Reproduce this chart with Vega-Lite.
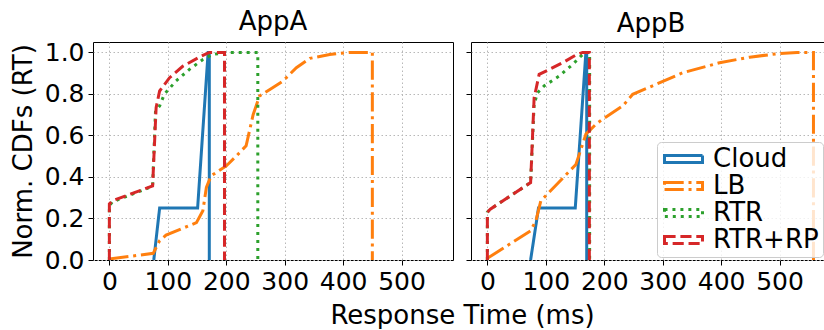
{
  "$schema": "https://vega.github.io/schema/vega-lite/v6.json",
  "padding": {"left": 9, "top": 8, "right": 0, "bottom": 0},
  "background": "white",
  "config": {
    "font": "DejaVu Sans",
    "view": {"stroke": "#000000", "strokeWidth": 1},
    "axis": {
      "domain": false,
      "labelFont": "DejaVu Sans",
      "labelFontSize": 25,
      "labelColor": "#000000",
      "titleFont": "DejaVu Sans",
      "titleFontSize": 26,
      "titleFontWeight": "normal",
      "titleColor": "#000000",
      "tickColor": "#000000",
      "tickSize": 5,
      "tickWidth": 1,
      "labelPadding": 4,
      "gridColor": "#b8b8b8",
      "gridDash": [1.5, 2.5],
      "gridWidth": 1,
      "minExtent": 0
    },
    "legend": {
      "labelFont": "DejaVu Sans",
      "labelFontSize": 26,
      "labelColor": "#000000",
      "labelLimit": 0,
      "labelOffset": 26,
      "symbolType": "M-1,-0.36H3V0.36H-1Z",
      "symbolSize": 361,
      "symbolStrokeWidth": 3,
      "symbolFillColor": "transparent",
      "fillColor": "rgba(255,255,255,0.8)",
      "strokeColor": "#cccccc",
      "cornerRadius": 4,
      "padding": 4,
      "rowPadding": 1,
      "title": null
    },
    "title": {"font": "DejaVu Sans", "fontSize": 26, "fontWeight": "normal", "color": "#000000", "offset": 5, "anchor": "middle"}
  },
  "data": {
    "values": [
      {"app": "AppA", "sys": "Cloud", "i": 1, "t": 76, "cdf": 0},
      {"app": "AppA", "sys": "Cloud", "i": 2, "t": 86, "cdf": 0.25},
      {"app": "AppA", "sys": "Cloud", "i": 3, "t": 151, "cdf": 0.25},
      {"app": "AppA", "sys": "Cloud", "i": 4, "t": 169, "cdf": 1.0},
      {"app": "AppA", "sys": "Cloud", "i": 5, "t": 171, "cdf": 1.0},
      {"app": "AppA", "sys": "Cloud", "i": 6, "t": 171, "cdf": 0},

      {"app": "AppA", "sys": "LB", "i": 1, "t": 0, "cdf": 0.005},
      {"app": "AppA", "sys": "LB", "i": 2, "t": 75, "cdf": 0.032},
      {"app": "AppA", "sys": "LB", "i": 3, "t": 86, "cdf": 0.093},
      {"app": "AppA", "sys": "LB", "i": 4, "t": 97, "cdf": 0.12},
      {"app": "AppA", "sys": "LB", "i": 5, "t": 149, "cdf": 0.18},
      {"app": "AppA", "sys": "LB", "i": 6, "t": 160, "cdf": 0.237},
      {"app": "AppA", "sys": "LB", "i": 7, "t": 166, "cdf": 0.35},
      {"app": "AppA", "sys": "LB", "i": 8, "t": 174, "cdf": 0.405},
      {"app": "AppA", "sys": "LB", "i": 9, "t": 200, "cdf": 0.453},
      {"app": "AppA", "sys": "LB", "i": 10, "t": 217, "cdf": 0.5},
      {"app": "AppA", "sys": "LB", "i": 11, "t": 234, "cdf": 0.55},
      {"app": "AppA", "sys": "LB", "i": 12, "t": 246, "cdf": 0.7},
      {"app": "AppA", "sys": "LB", "i": 13, "t": 257, "cdf": 0.79},
      {"app": "AppA", "sys": "LB", "i": 14, "t": 274, "cdf": 0.82},
      {"app": "AppA", "sys": "LB", "i": 15, "t": 297, "cdf": 0.862},
      {"app": "AppA", "sys": "LB", "i": 16, "t": 320, "cdf": 0.926},
      {"app": "AppA", "sys": "LB", "i": 17, "t": 343, "cdf": 0.971},
      {"app": "AppA", "sys": "LB", "i": 18, "t": 377, "cdf": 0.99},
      {"app": "AppA", "sys": "LB", "i": 19, "t": 412, "cdf": 1.0},
      {"app": "AppA", "sys": "LB", "i": 20, "t": 450, "cdf": 1.0},
      {"app": "AppA", "sys": "LB", "i": 21, "t": 450, "cdf": 0},

      {"app": "AppA", "sys": "RTR", "i": 1, "t": 0, "cdf": 0},
      {"app": "AppA", "sys": "RTR", "i": 2, "t": 0, "cdf": 0.26},
      {"app": "AppA", "sys": "RTR", "i": 3, "t": 5, "cdf": 0.28},
      {"app": "AppA", "sys": "RTR", "i": 4, "t": 74, "cdf": 0.355},
      {"app": "AppA", "sys": "RTR", "i": 5, "t": 79, "cdf": 0.72},
      {"app": "AppA", "sys": "RTR", "i": 6, "t": 86, "cdf": 0.742},
      {"app": "AppA", "sys": "RTR", "i": 7, "t": 94, "cdf": 0.798},
      {"app": "AppA", "sys": "RTR", "i": 8, "t": 114, "cdf": 0.862},
      {"app": "AppA", "sys": "RTR", "i": 9, "t": 137, "cdf": 0.918},
      {"app": "AppA", "sys": "RTR", "i": 10, "t": 160, "cdf": 0.966},
      {"app": "AppA", "sys": "RTR", "i": 11, "t": 177, "cdf": 0.99},
      {"app": "AppA", "sys": "RTR", "i": 12, "t": 200, "cdf": 1.0},
      {"app": "AppA", "sys": "RTR", "i": 13, "t": 254, "cdf": 1.0},
      {"app": "AppA", "sys": "RTR", "i": 14, "t": 254, "cdf": 0},

      {"app": "AppA", "sys": "RTR+RP", "i": 1, "t": 0, "cdf": 0},
      {"app": "AppA", "sys": "RTR+RP", "i": 2, "t": 0, "cdf": 0.27},
      {"app": "AppA", "sys": "RTR+RP", "i": 3, "t": 5, "cdf": 0.285},
      {"app": "AppA", "sys": "RTR+RP", "i": 4, "t": 74, "cdf": 0.357},
      {"app": "AppA", "sys": "RTR+RP", "i": 5, "t": 80, "cdf": 0.734},
      {"app": "AppA", "sys": "RTR+RP", "i": 6, "t": 86, "cdf": 0.814},
      {"app": "AppA", "sys": "RTR+RP", "i": 7, "t": 103, "cdf": 0.878},
      {"app": "AppA", "sys": "RTR+RP", "i": 8, "t": 126, "cdf": 0.934},
      {"app": "AppA", "sys": "RTR+RP", "i": 9, "t": 154, "cdf": 0.977},
      {"app": "AppA", "sys": "RTR+RP", "i": 10, "t": 171, "cdf": 1.0},
      {"app": "AppA", "sys": "RTR+RP", "i": 11, "t": 197, "cdf": 1.0},
      {"app": "AppA", "sys": "RTR+RP", "i": 12, "t": 197, "cdf": 0},

      {"app": "AppB", "sys": "Cloud", "i": 1, "t": 74, "cdf": 0},
      {"app": "AppB", "sys": "Cloud", "i": 2, "t": 87.5, "cdf": 0.25},
      {"app": "AppB", "sys": "Cloud", "i": 3, "t": 150.4, "cdf": 0.25},
      {"app": "AppB", "sys": "Cloud", "i": 4, "t": 168.6, "cdf": 1.0},
      {"app": "AppB", "sys": "Cloud", "i": 5, "t": 170, "cdf": 1.0},
      {"app": "AppB", "sys": "Cloud", "i": 6, "t": 170, "cdf": 0},

      {"app": "AppB", "sys": "LB", "i": 1, "t": 0, "cdf": 0.008},
      {"app": "AppB", "sys": "LB", "i": 2, "t": 74, "cdf": 0.141},
      {"app": "AppB", "sys": "LB", "i": 3, "t": 83, "cdf": 0.189},
      {"app": "AppB", "sys": "LB", "i": 4, "t": 91.5, "cdf": 0.285},
      {"app": "AppB", "sys": "LB", "i": 5, "t": 151.5, "cdf": 0.46},
      {"app": "AppB", "sys": "LB", "i": 6, "t": 168.6, "cdf": 0.606},
      {"app": "AppB", "sys": "LB", "i": 7, "t": 185.8, "cdf": 0.654},
      {"app": "AppB", "sys": "LB", "i": 8, "t": 197, "cdf": 0.678},
      {"app": "AppB", "sys": "LB", "i": 9, "t": 231.6, "cdf": 0.742},
      {"app": "AppB", "sys": "LB", "i": 10, "t": 248.7, "cdf": 0.798},
      {"app": "AppB", "sys": "LB", "i": 11, "t": 288.7, "cdf": 0.846},
      {"app": "AppB", "sys": "LB", "i": 12, "t": 334.5, "cdf": 0.902},
      {"app": "AppB", "sys": "LB", "i": 13, "t": 397.4, "cdf": 0.95},
      {"app": "AppB", "sys": "LB", "i": 14, "t": 449, "cdf": 0.977},
      {"app": "AppB", "sys": "LB", "i": 15, "t": 494.5, "cdf": 0.993},
      {"app": "AppB", "sys": "LB", "i": 16, "t": 530, "cdf": 1.0},
      {"app": "AppB", "sys": "LB", "i": 17, "t": 558, "cdf": 1.0},
      {"app": "AppB", "sys": "LB", "i": 18, "t": 558, "cdf": 0},

      {"app": "AppB", "sys": "RTR", "i": 1, "t": 0, "cdf": 0},
      {"app": "AppB", "sys": "RTR", "i": 2, "t": 0, "cdf": 0.23},
      {"app": "AppB", "sys": "RTR", "i": 3, "t": 5, "cdf": 0.245},
      {"app": "AppB", "sys": "RTR", "i": 4, "t": 74, "cdf": 0.373},
      {"app": "AppB", "sys": "RTR", "i": 5, "t": 80, "cdf": 0.75},
      {"app": "AppB", "sys": "RTR", "i": 6, "t": 86, "cdf": 0.806},
      {"app": "AppB", "sys": "RTR", "i": 7, "t": 97, "cdf": 0.838},
      {"app": "AppB", "sys": "RTR", "i": 8, "t": 123, "cdf": 0.886},
      {"app": "AppB", "sys": "RTR", "i": 9, "t": 146, "cdf": 0.942},
      {"app": "AppB", "sys": "RTR", "i": 10, "t": 160, "cdf": 0.982},
      {"app": "AppB", "sys": "RTR", "i": 11, "t": 169, "cdf": 1.0},
      {"app": "AppB", "sys": "RTR", "i": 12, "t": 175, "cdf": 1.0},
      {"app": "AppB", "sys": "RTR", "i": 13, "t": 175, "cdf": 0},

      {"app": "AppB", "sys": "RTR+RP", "i": 1, "t": 0, "cdf": 0},
      {"app": "AppB", "sys": "RTR+RP", "i": 2, "t": 0, "cdf": 0.229},
      {"app": "AppB", "sys": "RTR+RP", "i": 3, "t": 5, "cdf": 0.245},
      {"app": "AppB", "sys": "RTR+RP", "i": 4, "t": 74, "cdf": 0.373},
      {"app": "AppB", "sys": "RTR+RP", "i": 5, "t": 80, "cdf": 0.78},
      {"app": "AppB", "sys": "RTR+RP", "i": 6, "t": 88.6, "cdf": 0.894},
      {"app": "AppB", "sys": "RTR+RP", "i": 7, "t": 106, "cdf": 0.918},
      {"app": "AppB", "sys": "RTR+RP", "i": 8, "t": 128.6, "cdf": 0.95},
      {"app": "AppB", "sys": "RTR+RP", "i": 9, "t": 151.5, "cdf": 0.987},
      {"app": "AppB", "sys": "RTR+RP", "i": 10, "t": 163, "cdf": 1.0},
      {"app": "AppB", "sys": "RTR+RP", "i": 11, "t": 174.5, "cdf": 1.0},
      {"app": "AppB", "sys": "RTR+RP", "i": 12, "t": 174.5, "cdf": 0}
    ]
  },
  "spacing": 18,
  "bounds": "flush",
  "resolve": {"legend": {"color": "independent", "strokeDash": "independent"}},
  "hconcat": [
    {
      "title": "AppA",
      "width": 360,
      "height": 218,
      "transform": [{"filter": "datum.app === 'AppA'"}],
      "mark": {"type": "line", "strokeWidth": 3, "clip": true},
      "encoding": {
        "x": {"field": "t", "type": "quantitative", "scale": {"domain": [-28, 588], "nice": false, "zero": false},
              "axis": {"values": [0, 100, 200, 300, 400, 500], "title": "Response Time (ms)", "titleX": 369, "titlePadding": 8}},
        "y": {"field": "cdf", "type": "quantitative", "scale": {"domain": [0, 1.05], "nice": false},
              "axis": {"values": [0, 0.2, 0.4, 0.6, 0.8, 1.0], "format": ".1f", "title": "Norm. CDFs (RT)", "titlePadding": 8}},
        "color": {"field": "sys", "type": "nominal", "scale": {"domain": ["Cloud", "LB", "RTR", "RTR+RP"], "range": ["#1f77b4", "#ff7f0e", "#2ca02c", "#d62728"]}, "legend": null},
        "strokeDash": {"field": "sys", "type": "nominal", "scale": {"domain": ["Cloud", "LB", "RTR", "RTR+RP"], "range": [[1, 0], [19.2, 4.8, 3, 4.8], [3, 4.95], [11.1, 4.8]]}, "legend": null},
        "order": {"field": "i", "type": "quantitative"}
      }
    },
    {
      "title": "AppB",
      "width": 360,
      "height": 218,
      "transform": [{"filter": "datum.app === 'AppB'"}],
      "mark": {"type": "line", "strokeWidth": 3, "clip": true},
      "encoding": {
        "x": {"field": "t", "type": "quantitative", "scale": {"domain": [-28, 588], "nice": false, "zero": false},
              "axis": {"values": [0, 100, 200, 300, 400, 500], "title": null}},
        "y": {"field": "cdf", "type": "quantitative", "scale": {"domain": [0, 1.05], "nice": false},
              "axis": {"values": [0, 0.2, 0.4, 0.6, 0.8, 1.0], "labels": false, "title": null}},
        "color": {"field": "sys", "type": "nominal", "scale": {"domain": ["Cloud", "LB", "RTR", "RTR+RP"], "range": ["#1f77b4", "#ff7f0e", "#2ca02c", "#d62728"]},
                  "legend": {"orient": "none", "legendX": 186, "legendY": 100}},
        "strokeDash": {"field": "sys", "type": "nominal", "scale": {"domain": ["Cloud", "LB", "RTR", "RTR+RP"], "range": [[1, 0], [19.2, 4.8, 3, 4.8], [3, 4.95], [11.1, 4.8]]},
                  "legend": {"orient": "none", "legendX": 186, "legendY": 100}},
        "order": {"field": "i", "type": "quantitative"}
      }
    }
  ]
}
